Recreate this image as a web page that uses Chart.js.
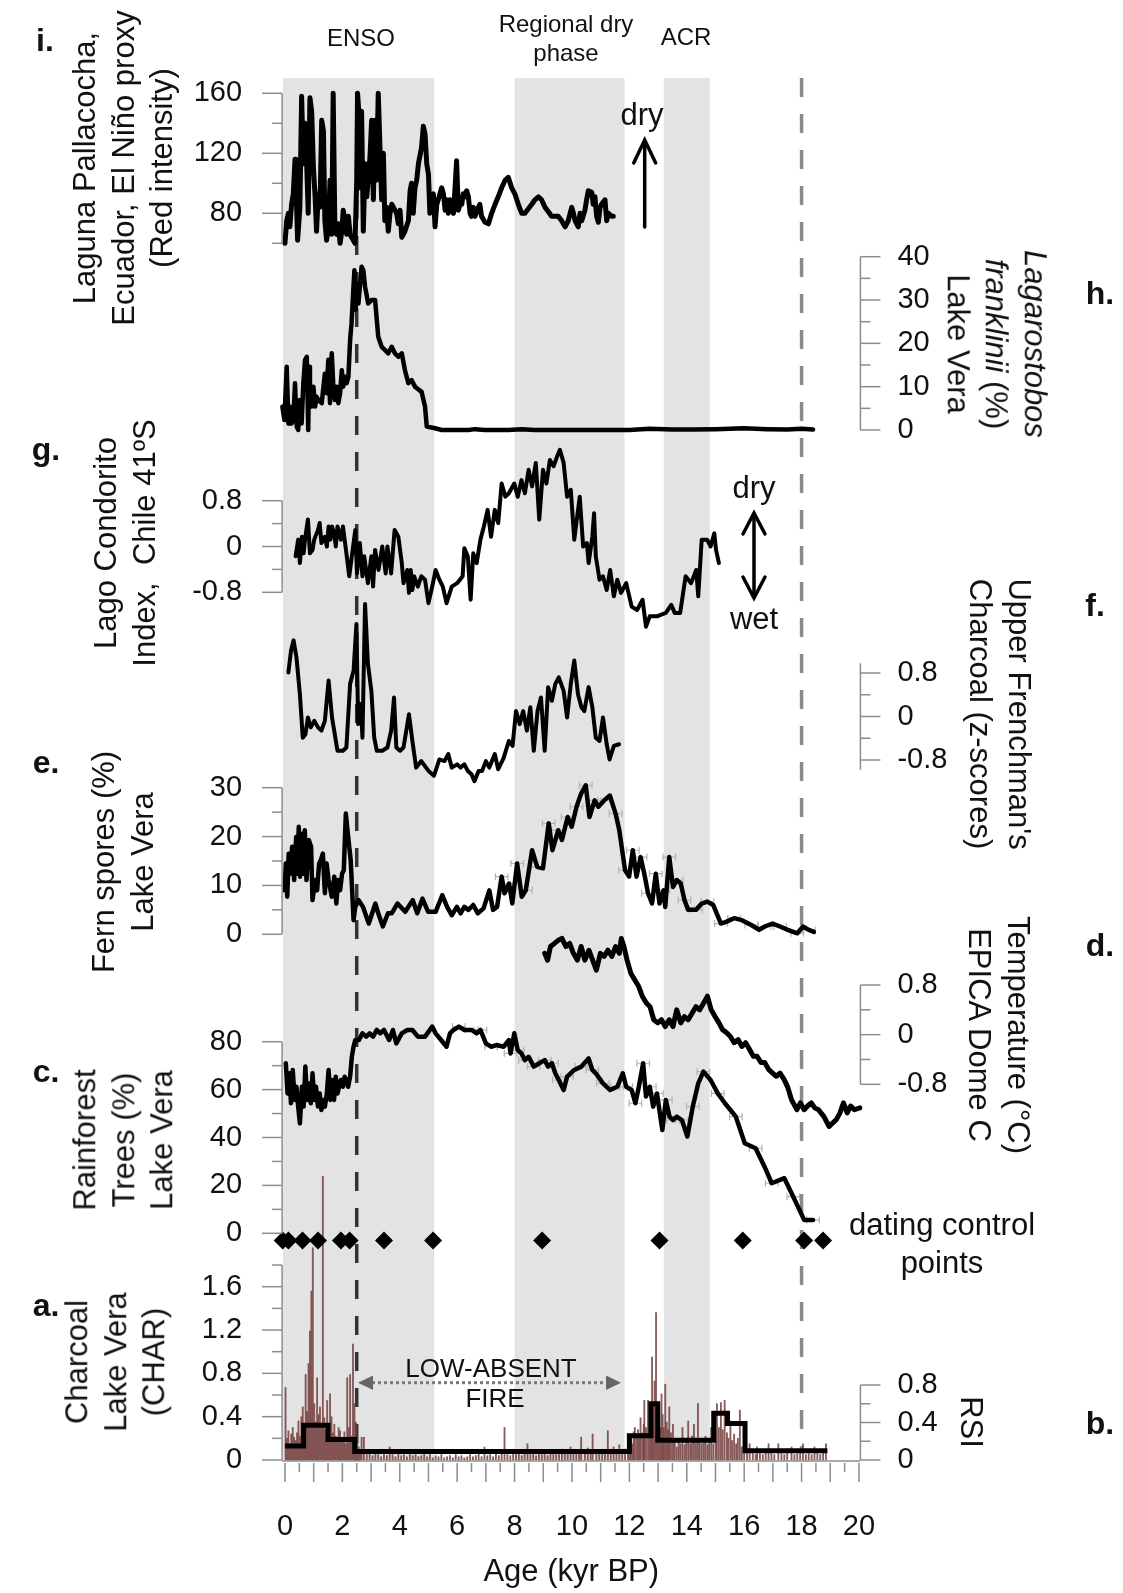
<!DOCTYPE html>
<html>
<head>
<meta charset="utf-8">
<script src="https://cdn.jsdelivr.net/npm/chart.js@4.4.1/dist/chart.umd.min.js"></script>
<style>
  html, body { margin: 0; padding: 0; background: #fff; }
  #wrap { position: relative; width: 1123px; height: 1593px; overflow: hidden;
          font-family: "Liberation Sans", Arial, Helvetica, sans-serif; color: #111; }
  #chart { position: absolute; left: 0; top: 0; }
  .c { position: absolute; transform: translate(-50%, -50%); white-space: nowrap; text-align: center; line-height: 1.15; }
  .l90 { transform: translate(-50%, -50%) rotate(-90deg); font-size: 31px; line-height: 38.5px; }
  .r90 { transform: translate(-50%, -50%) rotate(90deg); font-size: 31px; line-height: 38.5px; }
  .lt { font-weight: bold; font-size: 32px; }
  .an { font-size: 24px; }
  .big { font-size: 31px; }
</style>
</head>
<body>
<div id="wrap">
  <canvas id="chart" width="1123" height="1593"></canvas>

  <div class="c lt" style="left:45px;top:40px">i.</div>
  <div class="c lt" style="left:46px;top:449px">g.</div>
  <div class="c lt" style="left:46px;top:762px">e.</div>
  <div class="c lt" style="left:46px;top:1071px">c.</div>
  <div class="c lt" style="left:46px;top:1305px">a.</div>
  <div class="c lt" style="left:1100px;top:293px">h.</div>
  <div class="c lt" style="left:1095px;top:605px">f.</div>
  <div class="c lt" style="left:1100px;top:945px">d.</div>
  <div class="c lt" style="left:1100px;top:1423px">b.</div>

  <div class="c l90" style="left:124px;top:168px">Laguna Pallacocha,<br>Ecuador, El Niño proxy<br>(Red intensity)</div>
  <div class="c l90" style="left:125px;top:543px">Lago Condorito<br>Index,&nbsp; Chile 41ºS</div>
  <div class="c l90" style="left:123px;top:862px">Fern spores (%)<br>Lake Vera</div>
  <div class="c l90" style="left:124px;top:1140px">Rainforest<br>Trees (%)<br>Lake Vera</div>
  <div class="c l90" style="left:116px;top:1362px">Charcoal<br>Lake Vera<br>(CHAR)</div>

  <div class="c r90" style="left:996px;top:344px"><i>Lagarostobos</i><br><i>franklinii</i> (%)<br>Lake Vera</div>
  <div class="c r90" style="left:999px;top:714px">Upper Frenchman's<br>Charcoal (z-scores)</div>
  <div class="c r90" style="left:998px;top:1035px">Temperature (°C)<br>EPICA Dome C</div>
  <div class="c r90" style="left:971px;top:1422px">RSI</div>

  <div class="c an" style="left:361px;top:38px">ENSO</div>
  <div class="c an" style="left:566px;top:38px;line-height:29px">Regional dry<br>phase</div>
  <div class="c an" style="left:686px;top:37px">ACR</div>
  <div class="c big" style="left:642px;top:115px">dry</div>
  <div class="c big" style="left:754px;top:488px">dry</div>
  <div class="c big" style="left:754px;top:619px">wet</div>
  <div class="c" style="left:491px;top:1369px;font-size:26px">LOW-ABSENT</div>
  <div class="c" style="left:495px;top:1399px;font-size:26px">FIRE</div>
  <div class="c big" style="left:942px;top:1225px">dating control</div>
  <div class="c big" style="left:942px;top:1263px">points</div>
</div>

<script>
// ---- data (age in kyr BP) ----
const ageLabels = [0, 2, 4, 6, 8, 10, 12, 14, 16, 18, 20];
const periodStart = [-0.07, 8.0, 13.2];
const periodEnd = [5.2, 11.83, 14.8];
const boundaryAges = [2.5, 18];

// i. Laguna Pallacocha red intensity
const palAge = [0.00,0.06,0.12,0.17,0.23,0.29,0.35,0.38,0.44,0.52,0.58,0.64,0.70,0.76,0.81,0.87,0.93,0.99,1.05,1.10,
  1.16,1.22,1.28,1.34,1.39,1.45,1.51,1.57,1.63,1.68,1.74,1.80,1.86,1.92,1.98,2.03,2.09,2.15,2.21,2.27,
  2.32,2.38,2.44,2.50,2.53,2.58,2.61,2.67,2.73,2.79,2.85,2.90,2.96,3.02,3.08,3.14,3.19,3.25,3.31,3.37,
  3.43,3.48,3.54,3.60,3.66,3.72,3.78,3.89,3.95,4.01,4.07,4.18,4.30,4.36,4.41,4.47,4.53,4.59,4.65,4.76,
  4.82,4.88,4.94,5.00,5.05,5.11,5.17,5.23,5.29,5.34,5.46,5.52,5.58,5.63,5.69,5.75,5.81,5.87,5.92,5.98,
  6.04,6.10,6.16,6.21,6.27,6.33,6.39,6.45,6.50,6.56,6.62,6.74,6.79,6.85,6.97,7.09,7.20,7.32,7.43,7.55,
  7.67,7.78,7.90,8.01,8.13,8.25,8.36,8.48,8.60,8.71,8.83,8.94,9.06,9.18,9.29,9.41,9.52,9.64,9.76,9.87,
  9.99,10.05,10.11,10.22,10.28,10.34,10.45,10.51,10.57,10.69,10.74,10.80,10.86,10.92,10.98,11.03,11.15,11.21,11.27,11.38,
  11.44];
const palVal = [60,75,80,71,86,93,116,102,62,84,158,113,140,111,80,157,148,111,91,68,
  93,84,142,135,75,62,71,102,66,160,68,66,73,60,68,82,75,66,78,66,
  64,62,60,102,160,146,97,148,68,113,91,102,117,142,89,142,102,160,124,89,
  120,75,84,68,80,86,84,80,73,82,64,68,75,95,100,80,97,102,113,124,
  138,133,113,106,80,89,93,71,86,89,97,93,82,89,80,89,82,80,95,115,
  82,86,86,93,91,95,91,80,78,84,78,84,86,78,74,73,80,86,91,97,
  102,104,97,93,86,80,80,83,86,89,91,89,84,81,78,78,78,75,71,75,
  84,80,75,71,80,75,82,89,95,94,86,91,78,74,84,86,89,75,80,78,
  78];

// h. Lagarostobos franklinii (%)
const lagAge = [-0.09,-0.02,0.06,0.12,0.17,0.23,0.29,0.35,0.41,0.46,0.52,0.58,0.64,0.70,0.76,0.81,0.84,0.87,0.93,0.99,
  1.05,1.10,1.16,1.28,1.39,1.45,1.51,1.57,1.63,1.68,1.74,1.80,1.86,1.92,1.98,2.03,2.09,2.15,2.21,2.27,
  2.32,2.38,2.42,2.46,2.50,2.56,2.61,2.67,2.73,2.79,2.90,3.02,3.14,3.25,3.37,3.48,3.60,3.72,3.83,3.95,
  4.07,4.18,4.30,4.41,4.53,4.76,4.88,4.94,5.23,5.46,5.69,5.92,6.16,6.39,6.62,6.97,7.32,7.78,8.25,8.71,
  9.41,10.11,11.27,12.0,12.7,13.5,14.2,15.0,16.0,16.8,17.5,18.0,18.4];
const lagVal = [5.4,2.3,14.6,1.5,5.4,1.5,2.3,10.8,0.8,0,6.9,1.5,10.8,16.2,16.9,0,14.6,9.2,5.4,10,
  5.4,7.7,6.9,6.2,13,8.5,16.2,6.2,17.7,10.8,6.9,10,6.2,8.5,13.8,10,12.3,10.8,12.3,20.8,
  24.6,32.3,36.9,27.7,33.8,29.2,33.1,37.7,36.9,33.1,29.2,30,30,21.5,19.2,18.5,17.7,19.2,17.7,16.9,
  17.7,13.8,10.8,11.5,10,8.8,5.4,0.8,0.4,0,0,0,0,0,0.2,0,0,0,0.2,0,
  0,0,0,0,0.3,0.1,0.1,0.2,0.4,0.2,0.1,0.3,0.1];

// g. Lago Condorito index
const condAge = [0.37,0.46,0.52,0.59,0.65,0.71,0.80,0.87,0.96,1.02,1.15,1.21,1.27,1.39,1.46,1.52,1.58,1.64,1.71,1.77,
  1.83,1.95,2.02,2.14,2.24,2.33,2.45,2.51,2.61,2.70,2.76,2.89,3.01,3.07,3.14,3.26,3.39,3.51,3.57,3.70,
  3.82,3.95,4.07,4.13,4.26,4.32,4.38,4.44,4.50,4.63,4.75,4.88,5.00,5.13,5.25,5.38,5.50,5.63,5.81,6.00,
  6.19,6.25,6.37,6.47,6.56,6.68,6.81,6.93,7.06,7.18,7.31,7.43,7.55,7.68,7.80,7.99,8.11,8.24,8.36,8.49,
  8.61,8.74,8.86,8.99,9.11,9.23,9.36,9.48,
  9.58,9.71,9.83,9.96,10.08,10.27,10.39,10.52,10.58,10.71,10.77,10.83,10.96,11.08,11.21,11.33,11.46,11.58,11.71,11.89,
  12.08,12.27,12.46,12.58,12.71,12.96,13.27,13.46,13.58,13.77,13.96,14.15,14.33,14.40,14.52,14.71,14.83,14.96,15.02,15.12];
const condVal = [-0.17,0.12,-0.29,0.17,-0.12,0.17,0.47,-0.12,-0.06,0.12,0.29,0.41,0.06,0.17,0,0.35,0.12,0.35,0.23,0,
  0.35,0.12,0.35,-0.12,-0.52,-0.17,0.29,-0.47,0.06,-0.52,-0.17,-0.64,-0.17,-0.70,-0.06,-0.41,0,-0.47,0,-0.47,
  0.29,0.17,-0.29,-0.64,-0.41,-0.81,-0.41,-0.76,-0.52,-0.70,-0.52,-0.58,-0.99,-0.70,-0.41,-0.58,-0.70,-0.99,-0.70,-0.64,
  -0.52,-0.03,-0.17,-0.93,-0.12,-0.29,0.12,0.35,0.64,0.17,0.64,0.41,1.1,0.87,0.93,1.1,0.87,1.16,0.93,1.34,
  1.05,1.46,0.47,1.34,1.1,1.51,1.40,1.57,
  1.69,1.46,0.87,0.99,0.12,0.87,0,0.06,-0.29,0.17,0.58,-0.17,-0.58,-0.52,-0.76,-0.41,-0.87,-0.58,-0.81,-0.64,
  -1.05,-1.11,-0.93,-1.40,-1.22,-1.22,-1.16,-1.02,-1.16,-1.16,-0.52,-0.64,-0.41,-0.87,0.12,0.12,0,0.23,-0.06,-0.29];

// f. Upper Frenchman's charcoal (z-scores)
const frenAge = [0.12,0.21,0.30,0.40,0.52,0.62,0.71,0.80,0.90,1.02,1.15,1.27,1.39,1.52,1.64,1.83,2.02,2.14,2.27,2.39,
  2.49,2.55,2.64,2.70,2.79,2.89,3.01,3.11,3.20,3.39,3.57,3.70,3.80,3.88,4.01,4.13,4.32,4.44,4.57,4.75,
  5.00,5.19,5.38,5.56,5.69,5.81,6.00,6.12,6.25,6.37,6.50,6.60,6.75,6.87,7.00,7.12,7.31,7.43,7.62,7.80,
  7.93,8.05,8.18,8.30,8.43,8.55,8.67,8.80,8.92,9.05,9.17,9.30,9.42,9.54,
  9.71,9.83,9.96,10.08,10.21,10.33,10.43,10.58,10.71,10.83,10.96,11.08,11.21,11.31,11.46,11.64];
const frenVal = [0.81,1.21,1.40,1.09,0.41,-0.39,-0.33,-0.02,-0.20,-0.08,-0.20,-0.26,-0.08,0.66,-0.02,-0.63,-0.63,-0.57,0.60,0.84,
  1.70,-0.14,0.23,-0.39,2.07,0.97,0.47,-0.39,-0.63,-0.63,-0.57,-0.26,0.35,-0.57,-0.63,-0.57,0.04,-0.45,-0.94,-0.82,
  -1.00,-1.09,-0.79,-0.82,-0.69,-0.94,-0.88,-0.94,-0.88,-1.00,-1.06,-1.19,-1.00,-1.00,-0.82,-0.94,-0.69,-0.97,-0.76,-0.45,
  -0.54,0.10,-0.14,0.10,-0.26,0.17,-0.63,0.10,0.35,-0.63,0.54,0.29,0.60,0.72,
  0.47,-0.02,0.60,1.03,0.41,0.17,0.10,0.54,0.17,-0.39,-0.45,-0.02,-0.51,-0.79,-0.54,-0.51];

// e. Fern spores (%)
const fernAge = [-0.01,0.03,0.08,0.13,0.19,0.25,0.32,0.39,0.43,0.48,0.53,0.59,0.64,0.69,0.75,0.83,0.91,0.96,1.05,1.12,
  1.19,1.25,1.32,1.39,1.45,1.52,1.63,1.72,1.79,1.85,1.92,1.99,2.05,2.12,2.19,2.29,2.39,2.45,2.56,2.72,
  2.92,3.15,3.25,3.41,3.59,3.72,3.92,4.19,4.45,4.61,4.79,4.99,5.25,5.48,5.65,5.81,5.99,6.12,6.25,6.39,
  6.56,6.72,6.92,7.12,7.25,7.39,7.55,7.65,7.81,7.92,8.09,8.25,8.39,8.61,8.79,8.99,9.19,9.32,9.52,9.65,
  9.85,9.99,10.16,10.32,10.48,10.61,10.79,10.92,11.12,11.32,11.52,11.65,11.85,11.99,12.12,12.25,12.39,12.52,12.65,12.79,
  12.92,13.05,13.19,13.25,13.39,13.52,13.65,13.79,13.92,14.05,14.32,14.52,14.72,14.92,15.19,15.39,15.65,15.92,16.25,16.52,
  16.72,16.99,17.25,17.52,17.85,18.05,18.25,18.43];
const fernVal = [9.0,14.5,7.7,16.5,12.4,17.9,11.1,19.9,12.4,22.0,11.8,20.6,12.4,21.3,11.1,19.3,17.9,7.0,11.1,9.0,
  14.5,15.2,16.5,8.4,14.5,11.1,7.7,11.8,6.3,11.1,9.0,12.4,13.1,24.7,20.6,15.2,2.9,5.6,7.0,5.6,
  2.2,6.3,4.3,1.6,4.3,4.3,6.3,4.6,7.0,4.3,7.3,4.6,4.6,8.0,5.6,3.9,5.6,4.3,5.6,5.0,
  6.0,4.3,5.3,9.0,5.0,5.6,11.8,8.4,10.4,6.3,14.5,7.7,9.0,17.2,13.8,13.5,22.7,17.2,21.3,19.3,
  24.0,22.0,26.1,28.8,30.5,24.0,27.4,26.1,27.4,28.4,24.7,21.3,13.1,11.8,17.2,11.8,15.8,12.4,8.4,6.3,
  12.4,6.3,9.0,5.6,15.8,9.7,11.1,10.4,7.0,5.0,5.0,6.3,6.7,6.0,2.2,2.6,3.3,2.9,1.9,0.9,
  1.6,2.2,1.6,0.9,0.2,1.6,0.9,0.5];

// d. EPICA Dome C temperature anomaly (°C)
const epicaAge = [9.05,9.15,9.25,9.39,9.52,9.65,9.79,9.92,10.05,10.19,10.32,10.45,10.59,10.72,10.85,10.99,11.12,11.25,11.39,11.52,
  11.65,11.72,11.81,11.92,12.05,12.19,12.32,12.45,12.59,12.72,12.85,12.99,13.12,13.25,13.39,13.52,13.65,13.79,13.92,14.05,
  14.19,14.32,14.45,14.59,14.72,14.85,14.99,15.12,15.25,15.39,15.52,15.65,15.79,15.92,16.05,16.19,16.32,16.45,16.59,16.72,
  16.85,16.99,17.12,17.25,17.39,17.52,17.65,17.84,17.96,18.09,18.21,18.34,18.46,18.59,18.78,18.96,19.09,19.21,19.34,19.46,
  19.59,19.71,19.84,20.03];
const epicaVal = [1.31,1.20,1.42,1.47,1.52,1.55,1.42,1.47,1.31,1.20,1.42,1.20,1.36,1.20,1.04,1.31,1.26,1.36,1.26,1.42,
  1.31,1.55,1.42,1.20,0.99,0.88,0.78,0.62,0.51,0.45,0.24,0.19,0.24,0.13,0.24,0.13,0.40,0.19,0.29,0.24,
  0.35,0.45,0.40,0.51,0.62,0.40,0.29,0.19,0.08,0.03,-0.03,-0.13,-0.08,-0.19,-0.13,-0.24,-0.35,-0.35,-0.45,-0.45,
  -0.56,-0.62,-0.67,-0.62,-0.72,-0.85,-1.05,-1.21,-1.10,-1.21,-1.15,-1.10,-1.18,-1.21,-1.32,-1.48,-1.42,-1.37,-1.26,-1.10,
  -1.26,-1.15,-1.21,-1.18];

// c. Rainforest trees (%)
const rainAge = [0.03,0.09,0.15,0.21,0.27,0.34,0.40,0.46,0.52,0.59,0.65,0.71,0.77,0.83,0.90,0.96,1.02,1.08,1.15,1.21,
  1.27,1.33,1.39,1.46,1.52,1.58,1.64,1.71,1.77,1.83,1.89,1.95,2.02,2.08,2.14,2.20,2.27,2.33,2.39,2.45,
  2.58,2.70,2.83,2.95,3.07,3.20,3.32,3.45,3.63,3.76,3.88,4.07,4.26,4.44,4.63,4.88,5.13,5.25,5.44,5.63,
  5.75,5.87,6.06,6.25,6.50,6.68,6.81,7.00,7.18,7.37,7.62,7.80,7.86,7.99,8.11,8.24,8.36,8.49,8.67,8.86,
  9.05,9.17,9.30,9.42,9.54,
  9.71,9.83,10.08,10.33,10.58,10.71,10.83,11.08,11.33,11.58,11.77,11.89,12.08,12.21,12.33,12.48,12.58,12.71,12.83,12.96,
  13.15,13.27,13.40,13.52,13.65,13.83,14.02,14.21,14.40,14.58,14.83,15.08,15.33,15.71,16.02,16.40,16.71,16.96,17.40,17.71,
  18.09,18.40];
const rainVal = [71,58.4,66.8,54.3,68.2,55.7,61.2,52.9,45.9,61.2,52.9,69.6,55.7,62.6,54.3,66.8,55.7,61.2,52.9,58.4,
  51.5,55.7,52.9,58.4,68.2,55.7,64.0,55.7,65.4,58.4,61.2,64.0,61.2,65.4,64.0,61.2,65.4,73.7,77.9,80.7,
  80.7,83.5,82.1,83.5,82.1,84.9,83.5,84.9,80.7,84.9,79.3,83.5,84.9,84.9,82.1,82.1,86.3,83.5,80.7,77.9,
  83.5,84.9,86.3,84.9,84.9,83.5,84.9,79.3,77.9,78.6,77.9,80.7,75.1,83.5,76.5,75.1,72.3,73.7,69.6,71.0,
  72.3,69.6,71.0,66.8,64.0,
  59.8,65.4,68.2,69.6,73.0,68.2,66.8,62.6,59.8,61.2,66.8,61.2,59.8,54.3,61.2,71.0,57.1,61.2,52.9,58.4,
  43.1,55.7,48.7,47.3,48.7,47.3,40.4,52.9,62.6,67.5,64.0,58.4,54.3,48.7,37.6,35.5,27.8,20.9,23.0,15.3,
  5.6,5.6];

// age uncertainty (kyr, half width) shown on the dated parts of the Lake Vera records
const fernErrFrom = 7.5, rainErrFrom = 6.0, ageErr = 0.22;

// dating control points (ages), drawn just under the rainforest zero line
const datingAge = [-0.08,0.12,0.61,1.15,1.95,2.25,3.45,5.16,8.96,13.05,15.95,18.09,18.75];
const datingLevel = -3;

// a. Charcoal accumulation (CHAR)
const charAge = [0.02,0.07,0.12,0.17,0.22,0.27,0.32,0.37,0.42,0.47,0.52,0.57,0.62,0.67,0.72,0.77,0.82,0.87,0.92,0.97,
  1.02,1.07,1.12,1.17,1.22,1.27,1.32,1.37,1.42,1.47,1.52,1.57,1.62,1.67,1.72,1.77,1.82,1.87,1.92,1.97,
  2.02,2.07,2.12,2.17,2.22,2.27,2.32,2.37,2.42,2.47,2.52,2.57,2.62,2.67,
  2.75,2.85,2.95,3.05,3.15,3.25,3.35,3.45,3.55,3.65,3.75,3.85,3.95,4.05,4.15,4.25,4.35,4.45,4.55,4.65,
  4.75,4.85,4.95,5.05,5.15,5.25,5.35,5.45,5.55,5.65,5.75,5.85,5.95,6.05,6.15,6.25,6.35,6.45,6.55,6.65,
  6.75,6.85,6.95,7.05,7.15,7.25,7.35,7.45,7.55,7.65,7.75,7.85,7.95,8.05,8.15,8.25,8.35,8.45,8.55,8.65,
  8.75,8.85,8.95,9.05,9.15,9.25,9.35,9.45,9.55,9.65,9.75,9.85,9.95,10.05,10.15,10.25,10.32,10.45,10.55,10.65,
  10.72,10.85,10.95,11.05,11.15,11.25,11.35,11.45,11.55,11.65,11.75,11.85,11.95,
  12.00,12.05,12.10,12.15,12.19,12.25,12.30,12.35,12.39,12.45,12.50,12.52,12.58,12.65,12.70,12.75,12.79,12.84,12.88,12.93,
  12.98,13.03,13.08,13.12,13.16,13.20,13.25,13.30,13.35,13.39,13.45,13.52,13.58,13.65,13.72,13.78,13.85,13.92,13.98,14.05,
  14.12,14.18,14.25,14.32,14.39,14.45,14.52,14.59,14.65,14.72,14.78,14.85,14.92,15.00,15.05,15.12,15.19,15.25,15.32,15.40,
  15.45,15.52,15.58,15.65,15.72,15.78,15.85,15.92,16.00,
  16.10,16.19,16.30,16.40,16.45,16.55,16.65,16.75,16.85,16.95,17.05,17.19,17.30,17.40,17.50,17.65,17.75,17.85,17.95,18.05,
  18.15,18.25,18.35,18.45,18.55,18.65,18.75,18.85];
const charVal = [0.67,0.20,0.27,0.15,0.24,0.30,0.21,0.18,0.25,0.36,0.22,0.40,0.49,0.30,0.79,0.45,0.89,1.19,1.56,1.96,
  0.52,0.35,0.76,0.42,0.49,0.30,2.62,0.39,0.28,0.55,0.33,0.61,0.40,0.25,0.33,0.22,0.21,0.30,0.27,0.18,
  0.21,0.26,0.15,0.76,0.30,0.79,0.22,1.07,0.52,0.35,0.21,0.12,0.08,0.21,
  0.21,0.05,0.06,0.04,0.07,0.05,0.03,0.06,0.04,0.12,0.05,0.03,0.06,0.04,0.05,0.03,0.07,0.04,0.05,0.03,
  0.04,0.06,0.03,0.05,0.02,0.04,0.03,0.05,0.02,0.03,0.04,0.02,0.05,0.03,0.04,0.02,0.03,0.05,0.03,0.04,
  0.06,0.03,0.12,0.04,0.05,0.03,0.06,0.04,0.08,0.30,0.05,0.04,0.07,0.05,0.08,0.04,0.06,0.15,0.05,0.07,
  0.04,0.06,0.05,0.08,0.04,0.06,0.09,0.05,0.07,0.10,0.06,0.08,0.12,0.07,0.09,0.06,0.21,0.08,0.11,0.07,
  0.24,0.09,0.06,0.10,0.08,0.27,0.07,0.12,0.09,0.14,0.08,0.10,0.12,
  0.18,0.22,0.15,0.26,0.30,0.20,0.28,0.22,0.39,0.25,0.33,0.55,0.30,0.55,0.35,0.45,0.95,0.50,0.73,1.36,
  0.45,0.36,0.30,0.61,0.42,0.30,0.70,0.35,0.28,0.49,0.25,0.33,0.20,0.12,0.18,0.15,0.30,0.14,0.20,0.36,
  0.15,0.22,0.33,0.18,0.52,0.20,0.15,0.18,0.22,0.14,0.20,0.30,0.15,0.25,0.52,0.30,0.53,0.28,0.55,0.25,
  0.20,0.36,0.18,0.24,0.15,0.20,0.46,0.12,0.10,
  0.08,0.15,0.06,0.05,0.12,0.06,0.05,0.07,0.15,0.06,0.05,0.15,0.06,0.05,0.07,0.12,0.05,0.06,0.07,0.15,
  0.05,0.06,0.05,0.12,0.06,0.05,0.07,0.15];

// b. RSI (step series, each value holds until the next age)
const rsiAge = [0, 0.65, 1.5, 2.43, 12.0, 12.75, 12.99, 14.94, 15.42, 16.03, 18.9];
const rsiVal = [0.15, 0.37, 0.22, 0.09, 0.26, 0.6, 0.21, 0.5, 0.39, 0.1, 0.1];

// tick values per panel
const palTicks = [60, 80, 100, 120, 140, 160], palLabels = [80, 120, 160];
const lagTicks = [0, 5, 10, 15, 20, 25, 30, 35, 40], lagLabels = [0, 10, 20, 30, 40];
const condTicks = [-0.8, -0.4, 0, 0.4, 0.8], condLabels = [-0.8, 0, 0.8];
const frenTicks = [-0.8, -0.4, 0, 0.4, 0.8], frenLabels = [-0.8, 0, 0.8];
const fernTicks = [0, 5, 10, 15, 20, 25, 30], fernLabels = [0, 10, 20, 30];
const epicaTicks = [-0.8, -0.4, 0, 0.4, 0.8], epicaLabels = [-0.8, 0, 0.8];
const rainTicks = [0, 10, 20, 30, 40, 50, 60, 70, 80], rainLabels = [0, 20, 40, 60, 80];
const charTicks = [0, 0.2, 0.4, 0.6, 0.8, 1.0, 1.2, 1.4, 1.6, 1.8], charLabels = [0, 0.4, 0.8, 1.2, 1.6];
const rsiTicks = [0, 0.2, 0.4, 0.6, 0.8], rsiLabels = [0, 0.4, 0.8];

// ---- layout ----
const AREA_TOP = 78;
const AREA_BOTTOM = 1461;
const FONT = '"Liberation Sans", Arial, Helvetica, sans-serif';

// every panel axis spans the whole plot height; pick min/max so that two
// reference values land on the wanted pixel rows
function fitAxis(vA, pA, vB, pB) {
  const k = (vA - vB) / (pB - pA);
  return { min: vB - k * (AREA_BOTTOM - pB), max: vA + k * (pA - AREA_TOP) };
}

const pts = (xs, ys) => xs.map((x, i) => ({ x, y: ys[i] }));
const line = (data, yAxisID, width = 4.5) => ({
  type: 'line', data, yAxisID, borderColor: '#000', borderWidth: width,
  pointRadius: 0, tension: 0, clip: false, borderJoinStyle: 'round', borderCapStyle: 'round',
});

const panelAxes = [
  { id: 'yPal', side: 'left', ticks: palTicks, labels: palLabels },
  { id: 'yCond', side: 'left', ticks: condTicks, labels: condLabels },
  { id: 'yFern', side: 'left', ticks: fernTicks, labels: fernLabels },
  { id: 'yRain', side: 'left', ticks: rainTicks, labels: rainLabels },
  { id: 'yChar', side: 'left', ticks: charTicks, labels: charLabels },
  { id: 'yLag', side: 'right', ticks: lagTicks, labels: lagLabels },
  { id: 'yFren', side: 'right', ticks: frenTicks, labels: frenLabels, spine: [-0.98, 0.98] },
  { id: 'yEpica', side: 'right', ticks: epicaTicks, labels: epicaLabels },
  { id: 'yRsi', side: 'right', ticks: rsiTicks, labels: rsiLabels },
];

const bandsPlugin = {
  id: 'bands',
  beforeDatasetsDraw(chart) {
    const { ctx, chartArea: a, scales } = chart;
    const x = scales.x;
    ctx.save();
    ctx.fillStyle = '#e3e3e3';
    periodStart.forEach((from, i) => {
      const x0 = x.getPixelForValue(from);
      const x1 = x.getPixelForValue(periodEnd[i]);
      ctx.fillRect(x0, a.top, x1 - x0, a.bottom - a.top);
    });

    // age error bars, faint grey
    ctx.strokeStyle = '#b4b4b4';
    ctx.lineWidth = 1.2;
    const errBars = (ages, vals, from, id) => {
      const ys = scales[id];
      ages.forEach((t, i) => {
        if (t < from || i % 2) return;
        const y = ys.getPixelForValue(vals[i]);
        const xa = x.getPixelForValue(t - ageErr), xb = x.getPixelForValue(t + ageErr);
        ctx.beginPath();
        ctx.moveTo(xa, y); ctx.lineTo(xb, y);
        ctx.moveTo(xa, y - 3.5); ctx.lineTo(xa, y + 3.5);
        ctx.moveTo(xb, y - 3.5); ctx.lineTo(xb, y + 3.5);
        ctx.stroke();
      });
    };
    errBars(fernAge, fernVal, fernErrFrom, 'yFern');
    errBars(rainAge, rainVal, rainErrFrom, 'yRain');

    ctx.lineWidth = 3.5;
    ctx.setLineDash([19, 17]);
    let bx = x.getPixelForValue(boundaryAges[0]);
    ctx.strokeStyle = '#333';
    ctx.beginPath(); ctx.moveTo(bx, 92); ctx.lineTo(bx, a.bottom); ctx.stroke();
    bx = x.getPixelForValue(boundaryAges[1]);
    ctx.strokeStyle = '#8a8a8a';
    ctx.beginPath(); ctx.moveTo(bx, a.top); ctx.lineTo(bx, 1450); ctx.stroke();
    ctx.restore();
  },
};

const axesPlugin = {
  id: 'panelAxes',
  afterDraw(chart) {
    const { ctx, chartArea: a, scales } = chart;
    ctx.save();
    ctx.strokeStyle = '#8c8c8c';
    ctx.lineWidth = 1.5;
    ctx.fillStyle = '#111';
    ctx.font = '29px ' + FONT;
    ctx.textBaseline = 'middle';
    panelAxes.forEach(ax => {
      const s = scales[ax.id];
      const left = ax.side === 'left';
      const x0 = left ? a.left : a.right;
      const dir = left ? -1 : 1;
      const spine = ax.spine || [ax.ticks[0], ax.ticks[ax.ticks.length - 1]];
      ctx.beginPath();
      ctx.moveTo(x0, s.getPixelForValue(spine[0]));
      ctx.lineTo(x0, s.getPixelForValue(spine[1]));
      ctx.stroke();
      ax.ticks.forEach(v => {
        const y = s.getPixelForValue(v);
        const len = ax.labels.includes(v) ? 20 : 10;
        ctx.beginPath(); ctx.moveTo(x0, y); ctx.lineTo(x0 + dir * len, y); ctx.stroke();
      });
      ctx.textAlign = left ? 'right' : 'left';
      ax.labels.forEach(v => ctx.fillText(String(v), x0 + dir * (left ? 40 : 37), s.getPixelForValue(v)));
    });

    // age axis line and tick marks
    const x = scales.x;
    ctx.beginPath(); ctx.moveTo(a.left, a.bottom); ctx.lineTo(a.right, a.bottom); ctx.stroke();
    for (let v = 0; v <= 20; v += 0.5) {
      const px = x.getPixelForValue(v);
      ctx.beginPath(); ctx.moveTo(px, a.bottom + 2); ctx.lineTo(px, a.bottom + (v % 1 === 0 ? 21 : 11)); ctx.stroke();
    }
    ctx.restore();
  },
};

function arrowHead(ctx, tipX, tipY, dx, dy) {
  ctx.beginPath();
  ctx.moveTo(tipX - dx, tipY + dy);
  ctx.lineTo(tipX, tipY);
  ctx.lineTo(tipX + dx, tipY + dy);
  ctx.stroke();
}

const notesPlugin = {
  id: 'notes',
  afterDraw(chart) {
    const { ctx } = chart;
    ctx.save();
    ctx.strokeStyle = '#000';
    ctx.lineWidth = 3.5;
    ctx.lineCap = 'round';
    // "dry" arrow, panel i
    ctx.beginPath(); ctx.moveTo(644.7, 227); ctx.lineTo(644.7, 142); ctx.stroke();
    arrowHead(ctx, 644.7, 140, 11, 23);
    // dry / wet arrow, panel g
    ctx.beginPath(); ctx.moveTo(754, 515); ctx.lineTo(754, 596); ctx.stroke();
    arrowHead(ctx, 754, 513, 11, 21);
    arrowHead(ctx, 754, 598, 11, -21);
    // LOW-ABSENT FIRE span
    ctx.strokeStyle = '#7a7a7a';
    ctx.fillStyle = '#666';
    ctx.lineWidth = 3;
    ctx.lineCap = 'butt';
    ctx.setLineDash([3, 3]);
    ctx.beginPath(); ctx.moveTo(372, 1382.7); ctx.lineTo(607, 1382.7); ctx.stroke();
    ctx.setLineDash([]);
    ctx.beginPath(); ctx.moveTo(358, 1382.7); ctx.lineTo(373, 1375.5); ctx.lineTo(373, 1390); ctx.closePath(); ctx.fill();
    ctx.beginPath(); ctx.moveTo(621, 1382.7); ctx.lineTo(606, 1375.5); ctx.lineTo(606, 1390); ctx.closePath(); ctx.fill();
    ctx.restore();
  },
};

new Chart(document.getElementById('chart'), {
  type: 'line',
  data: {
    datasets: [
      {
        type: 'line', data: pts(datingAge, datingAge.map(() => datingLevel)), yAxisID: 'yRain',
        showLine: false, pointStyle: 'rectRot', pointRadius: 9, pointBackgroundColor: '#000',
        pointBorderColor: '#000', pointBorderWidth: 0, clip: false,
      },
      line(pts(palAge, palVal), 'yPal', 5),
      line(pts(lagAge, lagVal), 'yLag', 4.5),
      line(pts(condAge, condVal), 'yCond', 4),
      line(pts(frenAge, frenVal), 'yFren', 4),
      line(pts(fernAge, fernVal), 'yFern', 4.5),
      line(pts(epicaAge, epicaVal), 'yEpica', 5),
      line(pts(rainAge, rainVal), 'yRain', 4.5),
      Object.assign(line(pts(rsiAge, rsiVal), 'yRsi', 5), { stepped: true, borderJoinStyle: 'miter', borderCapStyle: 'butt' }),
      {
        type: 'bar', data: pts(charAge, charVal), yAxisID: 'yChar',
        backgroundColor: 'rgba(118,62,62,0.85)', borderWidth: 0, barThickness: 1.2, clip: false,
      },
    ],
  },
  options: {
    responsive: false,
    animation: false,
    devicePixelRatio: 1,
    layout: { padding: { top: AREA_TOP, bottom: 0, left: 282.1, right: 262.6 } },
    plugins: { legend: { display: false }, tooltip: { enabled: false } },
    scales: {
      x: {
        type: 'linear', min: -0.1, max: 20.05, offset: false,
        grid: { display: false }, border: { display: false },
        afterBuildTicks: s => { s.ticks = ageLabels.map(v => ({ value: v })); },
        afterFit: s => { s.height = 132; },
        ticks: { padding: 41, color: '#111', font: { family: FONT, size: 29 }, maxRotation: 0, autoSkip: false },
        title: { display: true, text: 'Age (kyr BP)', color: '#111', font: { family: FONT, size: 31 }, padding: { top: 0, bottom: 2 } },
      },
      yPal: { type: 'linear', display: false, ...fitAxis(160, 93.3, 80, 213.3) },
      yLag: { type: 'linear', display: false, ...fitAxis(40, 256.7, 0, 430) },
      yCond: { type: 'linear', display: false, ...fitAxis(0.8, 500.7, -0.8, 592.3) },
      yFren: { type: 'linear', display: false, ...fitAxis(0.8, 673, -0.8, 760) },
      yFern: { type: 'linear', display: false, ...fitAxis(30, 787.7, 0, 934.3) },
      yEpica: { type: 'linear', display: false, ...fitAxis(0.8, 985, -0.8, 1084.3) },
      yRain: { type: 'linear', display: false, ...fitAxis(80, 1041.7, 0, 1233.3) },
      yChar: { type: 'linear', display: false, ...fitAxis(1.6, 1286.7, 0, 1460) },
      yRsi: { type: 'linear', display: false, ...fitAxis(0.8, 1385, 0, 1460) },
    },
  },
  plugins: [bandsPlugin, axesPlugin, notesPlugin],
});
</script>
</body>
</html>
